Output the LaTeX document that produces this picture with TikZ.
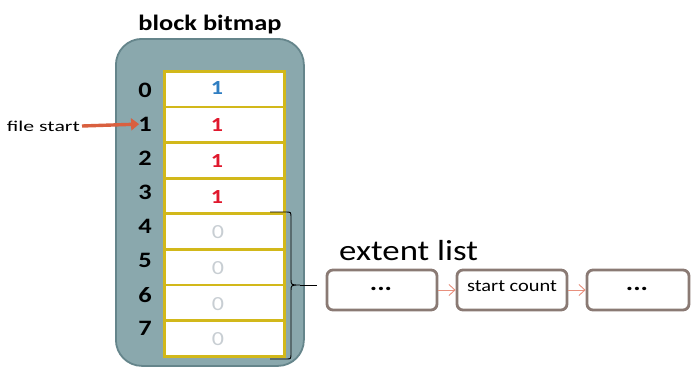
\documentclass[tikz,border=0pt]{standalone}
\usepackage{fontspec}
\setmainfont[FakeStretch=1.2]{Carlito}
\newfontfamily\widefont[FakeStretch=1.45]{Carlito}
\usetikzlibrary{arrows.meta}
\definecolor{panel}{HTML}{8AA8AD}
\definecolor{paneledge}{HTML}{65858B}
\definecolor{gold}{HTML}{D2B81A}
\definecolor{oneblue}{HTML}{2F7EC2}
\definecolor{onered}{HTML}{E0182D}
\definecolor{zerogrey}{HTML}{C8CED3}
\definecolor{startarrow}{HTML}{D9603F}
\definecolor{boxedge}{HTML}{8A7A74}
\definecolor{linkarrow}{HTML}{E8907E}
\tikzset{
  cell/.style={draw=gold, line width=2.8pt, fill=white, minimum width=120pt, minimum height=35.6pt, inner sep=0pt, anchor=north west},
  rowlbl/.style={font=\fontsize{22}{22}\selectfont\bfseries, inner sep=0pt},
  val/.style={font=\fontsize{20}{20}\selectfont\bfseries, inner sep=0pt},
  extbox/.style={draw=boxedge, line width=2.8pt, rounded corners=6pt, fill=white, minimum height=40pt, inner sep=0pt},
  dots/.style={font=\fontsize{23}{23}\selectfont\bfseries, inner sep=0pt},
  link/.style={draw=linkarrow, line width=0.9pt, -{Straight Barb[length=6pt,width=11pt]}},
}
\begin{document}
\begin{tikzpicture}[x=1pt,y=-1pt]
\useasboundingbox (0,0) rectangle (693,368);
\node[draw=paneledge, line width=1.8pt, fill=panel, rounded corners=26pt, minimum width=188pt, minimum height=327pt, anchor=north west] (panel) at (115,38) {};
\node[font=\fontsize{22}{22}\selectfont\bfseries] (title) at (210,25) {block bitmap};
\foreach \i in {0,...,7} {
  \node[cell] (c\i) at (163,{70+35.6*\i}) {};
  \node[rowlbl] (r\i) at (145,{90+34.1*\i}) {\i};
}
\node[val, text=oneblue] (v0) at (217,88) {1};
\node[val, text=onered] (v1) at (217,{89+35.6}) {1};
\node[val, text=onered] (v2) at (217,{90+2*35.6}) {1};
\node[val, text=onered] (v3) at (217,{90+3*35.6}) {1};
\foreach \i in {4,...,7} {
  \node[val, text=zerogrey, font=\fontsize{20}{20}\selectfont] (v\i) at (218,{90+35.6*\i}) {0};
}
\node[font=\fontsize{15}{15}\selectfont\widefont, anchor=east, inner sep=0pt] (fs) at (80,126) {file start};
\draw[startarrow, line width=3.4pt, -{Triangle[length=8pt,width=12pt]}] ([xshift=2pt]fs.east) -- ([xshift=1pt]r1.west);
% brace
\draw[black, line width=0.9pt] (270,212) -- (286,212) .. controls (291,212) .. (291,218) -- (291,279) .. controls (291,285) .. (300,285) coordinate (tip) .. controls (291,285) .. (291,291) -- (291,353) .. controls (291,359) .. (286,359) -- (270,359);
\coordinate (tipend) at (317,285);
\draw[black, line width=0.9pt] (tip) -- (tipend);
\node[font=\fontsize{29}{29}\selectfont, anchor=base west, inner sep=0pt] (el) at (339,260) {extent list};
\node[extbox, minimum width=110pt] (b1) at (382,290) {};
\node[dots] at (381,289) {...};
\node[extbox, minimum width=110pt] (b2) at (512,290) {};
\node[font=\fontsize{17}{17}\selectfont, inner sep=0pt] (sc) at (512,286) {start count};
\node[extbox, minimum width=102pt] (b3) at (638,290) {};
\node[dots] at (637,289) {...};
\draw[link] (b1) -- (b2);
\draw[link] (b2) -- (b3);
\end{tikzpicture}
\end{document}
